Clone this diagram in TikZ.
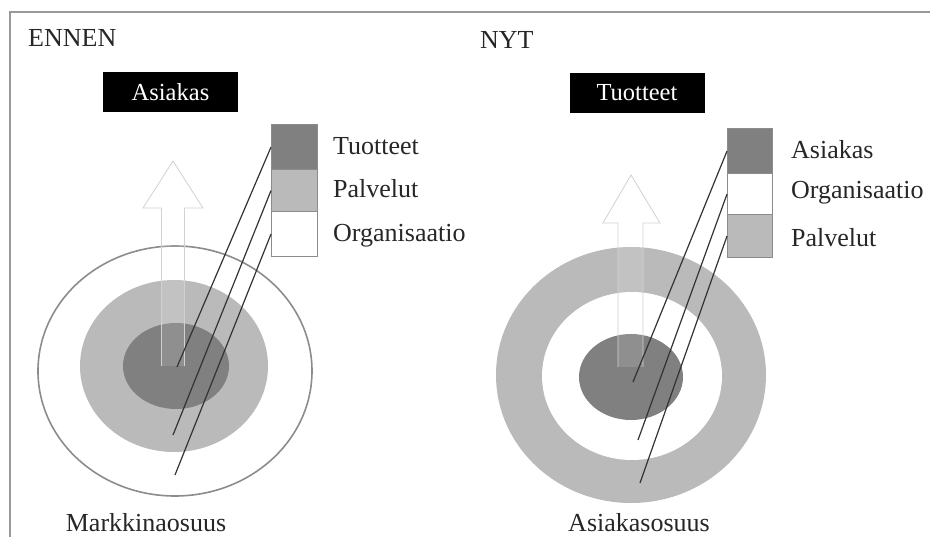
\documentclass[tikz,border=0pt]{standalone}
\usepackage{fontspec}
\setmainfont{Liberation Serif}
\begin{document}
\begin{tikzpicture}[x=1pt,y=-1pt,
  lbl/.style={font=\fontsize{26}{29}\selectfont, text=black!85, inner sep=0pt},
  titlebox/.style={fill=black, text=white, minimum width=135pt, minimum height=40pt, inner sep=0pt, font=\fontsize{24.5}{28}\selectfont},
  keybox/.style={draw=black!45, line width=1.2pt, anchor=north west, inner sep=0pt, minimum width=46pt},
  darkfill/.style={fill=black!50},
  lightfill/.style={fill=black!27},
  arrowshape/.style={draw=black!18, line width=0.8pt, fill=white, fill opacity=0.12},
  leader/.style={draw=black!80, line width=1.2pt}]
\useasboundingbox (0,0) rectangle (930,537);
% frame (top and left edges only)
\draw[black!40, line width=2pt] (10,537) -- (10,12) -- (930,12);

% headings
\node[lbl, anchor=west] (ennen) at (28,38) {ENNEN};
\node[lbl, anchor=west] (nyt) at (480,40) {NYT};
\node[titlebox] (asiakasbox) at (170.5,92) {Asiakas};
\node[titlebox] (tuotteetbox) at (637,93) {Tuotteet};

% ---------- left: market share ----------
\fill[white, draw=black!45, line width=1.6pt] (175,371) ellipse [x radius=137, y radius=125];
\fill[black!27] (174,366) ellipse [x radius=94, y radius=86];
\fill[black!50] (176,366) ellipse [x radius=53, y radius=43];
\path[arrowshape] (161.5,366) -- (161.5,208) -- (143,208) -- (173,161) -- (203,208) -- (184.5,208) -- (184.5,366);

\node[keybox, darkfill, minimum height=45pt] (lk1) at (271,124) {};
\node[keybox, lightfill, minimum height=42pt] (lk2) at (271,169) {};
\node[keybox, fill=white, minimum height=45pt] (lk3) at (271,211) {};
\node[lbl, anchor=west] (lt1) at (333,146) {Tuotteet};
\node[lbl, anchor=west] (lt2) at (333,189) {Palvelut};
\node[lbl, anchor=west] (lt3) at (333,236) {Organisaatio};

\coordinate (lp1) at (177,367);
\coordinate (lp2) at (173,435);
\coordinate (lp3) at (175,475);
\draw[leader] (lk1.west) -- (lp1);
\draw[leader] (lk2.west) -- (lp2);
\draw[leader] (lk3.west) -- (lp3);

\node[lbl, anchor=center] (markkina) at (146,523) {Markkinaosuus};

% ---------- right: customer share ----------
\fill[black!27] (631,375) ellipse [x radius=135, y radius=128];
\fill[white] (632,376) ellipse [x radius=90, y radius=84];
\fill[black!50] (631,377) ellipse [x radius=52, y radius=43];
\path[arrowshape] (618,367) -- (618,223) -- (603,223) -- (631,175) -- (660,223) -- (643,223) -- (643,367);

\node[keybox, darkfill, minimum height=45pt, minimum width=45pt] (rk1) at (727,128) {};
\node[keybox, fill=white, minimum height=41pt, minimum width=45pt] (rk2) at (727,173) {};
\node[keybox, lightfill, minimum height=43pt, minimum width=45pt] (rk3) at (727,214) {};
\node[lbl, anchor=west] (rt1) at (791,150) {Asiakas};
\node[lbl, anchor=west] (rt2) at (791,193) {Organisaatio};
\node[lbl, anchor=west] (rt3) at (791,238) {Palvelut};

\coordinate (rp1) at (633,382);
\coordinate (rp2) at (638,440);
\coordinate (rp3) at (640,483);
\draw[leader] (rk1.west) -- (rp1);
\draw[leader] (rk2.west) -- (rp2);
\draw[leader] (rk3.west) -- (rp3);

\node[lbl, anchor=center] (asiakasosuus) at (639,523) {Asiakasosuus};
\end{tikzpicture}
\end{document}
